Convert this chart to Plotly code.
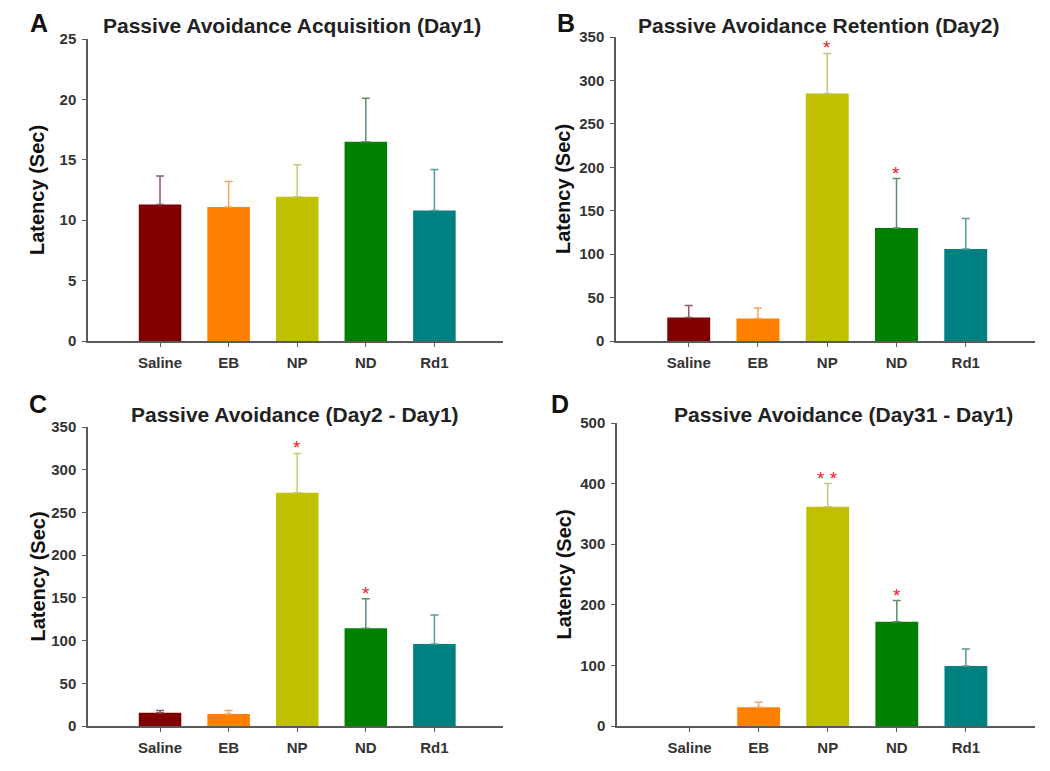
import plotly.graph_objects as go

categories = ["Saline", "EB", "NP", "ND", "Rd1"]
bar_colors = ["#800000", "#FF8000", "#C0C000", "#008000", "#008080"]
err_colors = ["#8a5a66", "#f3a860", "#c9c77a", "#5a8f6a", "#5a9a9a"]

# Panel A: Passive Avoidance Acquisition (Day1)
a_mean = [11.3, 11.1, 11.95, 16.5, 10.8]
a_err_top = [13.65, 13.2, 14.6, 20.1, 14.2]
a_stars = ["", "", "", "", ""]

# Panel B: Passive Avoidance Retention (Day2)
b_mean = [27, 26, 285, 130, 106]
b_err_top = [41, 38, 331, 187, 141]
b_stars = ["", "", "*", "*", ""]

# Panel C: Day2 - Day1
c_mean = [15.5, 14, 273, 114.5, 96]
c_err_top = [18, 18, 319, 149, 130]
c_stars = ["", "", "*", "*", ""]

# Panel D: Day31 - Day1
d_mean = [0, 31, 362, 172, 99]
d_err_top = [0, 39, 400, 207, 127]
d_stars = ["", "", "* *", "*", ""]

W, H = 1050, 771
PAGE_OFF = 8  # page body margin


def px(xp):
    return (xp - PAGE_OFF) / W


def py(yp):
    return 1 - (yp - PAGE_OFF) / H


panels = [
    dict(letter="A", title="Passive Avoidance Acquisition (Day1)", mean=a_mean, err=a_err_top,
         stars=a_stars, ymax=25, dtick=5, box=(88, 503, 39, 341),
         title_xy=(292, 25), letter_xy=(39, None), ylab_x=37),
    dict(letter="B", title="Passive Avoidance Retention (Day2)", mean=b_mean, err=b_err_top,
         stars=b_stars, ymax=350, dtick=50, box=(616, 1035, 37, 341),
         title_xy=(818, 25), letter_xy=(566, None), ylab_x=563),
    dict(letter="C", title="Passive Avoidance (Day2 - Day1)", mean=c_mean, err=c_err_top,
         stars=c_stars, ymax=350, dtick=50, box=(88, 503, 427, 726),
         title_xy=(295, 414), letter_xy=(38, 404), ylab_x=37),
    dict(letter="D", title="Passive Avoidance (Day31 - Day1)", mean=d_mean, err=d_err_top,
         stars=d_stars, ymax=500, dtick=100, box=(617, 1035, 423, 726),
         title_xy=(843, 414), letter_xy=(560, 404), ylab_x=563),
]

FONT = "Arial, Liberation Sans, sans-serif"
fig = go.Figure()
annotations = []
layout_axes = {}

for i, p in enumerate(panels):
    n = i + 1
    xa = "x" if n == 1 else f"x{n}"
    ya = "y" if n == 1 else f"y{n}"
    for j, cat in enumerate(categories):
        val = p["mean"][j]
        top = p["err"][j]
        ey = None
        if top > val:
            ey = dict(type="data", symmetric=False, array=[top - val], arrayminus=[0],
                      color=err_colors[j], thickness=1.5, width=4)
        fig.add_trace(go.Bar(
            x=[j], y=[val], width=0.62, marker=dict(color=bar_colors[j], line=dict(width=0)),
            error_y=ey, xaxis=xa, yaxis=ya, showlegend=False, hoverinfo="skip"))
        if p["stars"][j]:
            annotations.append(dict(x=j, y=top, xref=xa, yref=ya, text=p["stars"][j],
                                    showarrow=False, yanchor="bottom", yshift=-7,
                                    font=dict(family=FONT, size=19, color="#e8202a")))
    x0, x1, y0, y1 = p["box"]
    axkey_x = "xaxis" if n == 1 else f"xaxis{n}"
    axkey_y = "yaxis" if n == 1 else f"yaxis{n}"
    layout_axes[axkey_x] = dict(
        domain=[px(x0), px(x1)], anchor=ya, range=[-1.05, 5.0], tickmode="array",
        tickvals=list(range(5)), ticktext=["<b>" + c + "</b>" for c in categories],
        showline=True, linecolor="#5a5a5a", automargin=False,
        linewidth=1.5, ticks="outside", ticklen=4, tickcolor="#5a5a5a", showgrid=False,
        zeroline=False, tickfont=dict(family=FONT, size=15, color="#333333"),
        ticklabelstandoff=3, fixedrange=True)
    layout_axes[axkey_y] = dict(
        domain=[py(y1), py(y0)], anchor=xa, range=[0, p["ymax"]], dtick=p["dtick"],
        showline=True, linecolor="#5a5a5a", linewidth=1.5, ticks="outside", ticklen=4,
        automargin=False,
        tickcolor="#5a5a5a", showgrid=False, zeroline=False, tickprefix="<b>", ticksuffix="</b>",
        tickfont=dict(family=FONT, size=15, color="#333333"), ticklabelstandoff=3,
        fixedrange=True)
    annotations.append(dict(x=px(p["title_xy"][0]), y=py(p["title_xy"][1]),
                            xref="paper", yref="paper", text="<b>" + p["title"] + "</b>",
                            showarrow=False, xanchor="center", yanchor="middle",
                            font=dict(family=FONT, size=21, color="#222222")))
    lx, ly = p["letter_xy"]
    if ly is None:
        annotations.append(dict(x=px(lx), y=1, xref="paper", yref="paper",
                                text="<b>" + p["letter"] + "</b>", borderpad=0,
                                showarrow=False, xanchor="center", yanchor="top",
                                font=dict(family=FONT, size=25, color="#111111")))
    else:
        annotations.append(dict(x=px(lx), y=py(ly), xref="paper", yref="paper",
                                text="<b>" + p["letter"] + "</b>",
                                showarrow=False, xanchor="center", yanchor="middle",
                                font=dict(family=FONT, size=25, color="#111111")))
    yc = (py(y0) + py(y1)) / 2
    annotations.append(dict(x=px(p["ylab_x"]), y=yc, xref="paper", yref="paper",
                            text="<b>Latency (Sec)</b>", textangle=-90, showarrow=False,
                            xanchor="center", yanchor="middle",
                            font=dict(family=FONT, size=20, color="#111111")))

fig.update_layout(
    width=W, height=H, margin=dict(l=0, r=0, t=0, b=0, autoexpand=False),
    paper_bgcolor="white", plot_bgcolor="white", barmode="overlay",
    annotations=annotations, **layout_axes)

fig.write_html("out.html")
